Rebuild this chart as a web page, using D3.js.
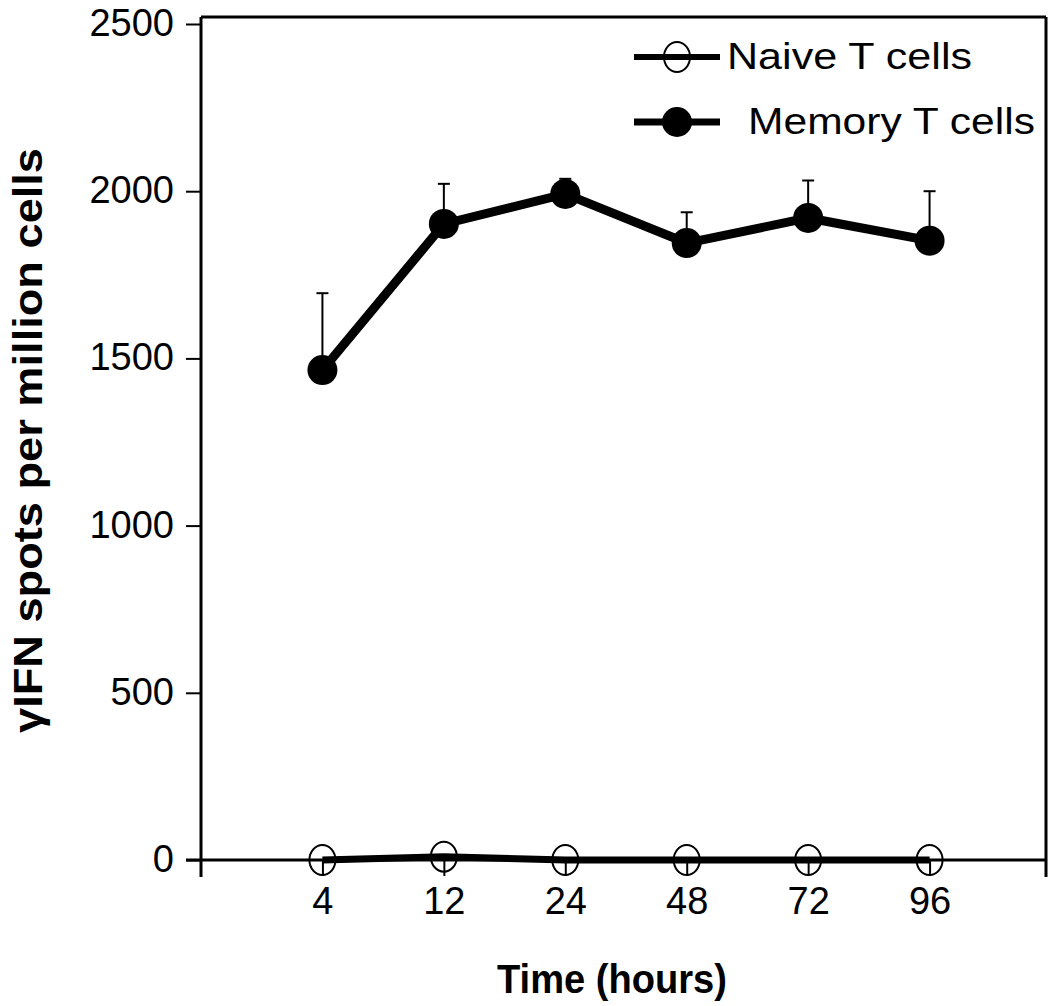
<!DOCTYPE html>
<html><head><meta charset="utf-8">
<script src="https://cdn.jsdelivr.net/npm/d3@7"></script>
<style>body{margin:0;background:#fff}svg{display:block}text{font-family:"Liberation Sans",Arial,Helvetica,sans-serif}</style>
</head><body>
<svg id="c" width="1050" height="1006"></svg>
<script>
const categories = ["4", "12", "24", "48", "72", "96"];
const naiveValues = [0, 10, 0, 0, 0, 0];
const memoryValues = [1465, 1902, 1992, 1845, 1920, 1852];
const memoryErrors = [230, 120, 45, 92, 112, 148];
const yTicks = [0, 500, 1000, 1500, 2000, 2500];
const seriesNames = ["Naive T cells", "Memory T cells"];

const svg = d3.select("#c");
const x = d3.scaleLinear().domain([0, 7]).range([201, 1051]);
const y = d3.scaleLinear().domain([0, 2500]).range([860, 24]);
const xRight = 1046, yTop = 17, yBottomExt = 877;

// frame: top and right
svg.append("line").attr("x1", x(0)).attr("x2", xRight).attr("y1", yTop).attr("y2", yTop).attr("stroke", "#000").attr("stroke-width", 3);
svg.append("line").attr("x1", xRight).attr("x2", xRight).attr("y1", yTop).attr("y2", yBottomExt).attr("stroke", "#000").attr("stroke-width", 3);

// y axis
const yAxis = svg.append("g").attr("transform", `translate(${x(0)},0)`)
  .call(d3.axisLeft(y).tickValues(yTicks).tickSize(15).tickPadding(12).tickFormat(d3.format("d")));
yAxis.select(".domain").remove();
svg.append("line").attr("x1", x(0)).attr("x2", x(0)).attr("y1", yTop).attr("y2", yBottomExt).attr("stroke", "#000").attr("stroke-width", 3);
yAxis.selectAll(".tick line").attr("stroke-width", 2);
yAxis.selectAll("text").attr("font-size", 38).attr("dy", "0.3em").attr("fill", "#000");

// x axis
const xAxis = svg.append("g").attr("transform", `translate(0,${y(0)})`)
  .call(d3.axisBottom(x).tickValues(d3.range(1, 7)).tickSize(16).tickPadding(11).tickFormat(i => categories[i - 1]));
xAxis.select(".domain").remove();
svg.append("line").attr("x1", x(0) - 15).attr("x2", xRight).attr("y1", y(0)).attr("y2", y(0)).attr("stroke", "#000").attr("stroke-width", 3);
xAxis.selectAll(".tick line").attr("stroke-width", 2);
xAxis.selectAll("text").attr("font-size", 38).attr("fill", "#000");

// axis titles
svg.append("text").attr("x", 497).attr("y", 993)
  .attr("font-size", 40).attr("font-weight", "bold")
  .attr("textLength", 230).attr("lengthAdjust", "spacingAndGlyphs").text("Time (hours)");
svg.append("text").attr("transform", "translate(42,733) rotate(-90)")
  .attr("font-size", 41).attr("font-weight", "bold")
  .attr("textLength", 585).attr("lengthAdjust", "spacingAndGlyphs").text("γIFN spots per million cells");

const line = d3.line().x((d, i) => x(i + 1)).y(d => y(d));

// naive series
svg.append("path").datum(naiveValues).attr("d", line).attr("fill", "none").attr("stroke", "#000").attr("stroke-width", 7);
svg.selectAll(".naive").data(naiveValues).join("ellipse").attr("class", "naive")
  .attr("cx", (d, i) => x(i + 1)).attr("cy", d => y(d)).attr("rx", 13).attr("ry", 15)
  .attr("fill", "none").attr("stroke", "#000").attr("stroke-width", 2);

// memory series: error bars
const eb = svg.selectAll(".eb").data(memoryValues).join("g").attr("class", "eb");
eb.append("line").attr("x1", (d, i) => x(i + 1)).attr("x2", (d, i) => x(i + 1))
  .attr("y1", d => y(d)).attr("y2", (d, i) => y(d + memoryErrors[i])).attr("stroke", "#000").attr("stroke-width", 2);
eb.append("line").attr("x1", (d, i) => x(i + 1) - 6).attr("x2", (d, i) => x(i + 1) + 6)
  .attr("y1", (d, i) => y(d + memoryErrors[i])).attr("y2", (d, i) => y(d + memoryErrors[i])).attr("stroke", "#000").attr("stroke-width", 2);
svg.append("path").datum(memoryValues).attr("d", line).attr("fill", "none").attr("stroke", "#000").attr("stroke-width", 9);
svg.selectAll(".mem").data(memoryValues).join("circle").attr("class", "mem")
  .attr("cx", (d, i) => x(i + 1)).attr("cy", d => y(d)).attr("r", 15).attr("fill", "#000");

// legend
const lg = svg.append("g");
lg.append("line").attr("x1", 634).attr("x2", 720).attr("y1", 57).attr("y2", 57).attr("stroke", "#000").attr("stroke-width", 6);
lg.append("ellipse").attr("cx", 677).attr("cy", 57).attr("rx", 13).attr("ry", 15).attr("fill", "none").attr("stroke", "#000").attr("stroke-width", 2);
lg.append("text").attr("x", 727).attr("y", 69).attr("font-size", 37)
  .attr("textLength", 245).attr("lengthAdjust", "spacingAndGlyphs").text(seriesNames[0]);
lg.append("line").attr("x1", 634).attr("x2", 720).attr("y1", 122).attr("y2", 122).attr("stroke", "#000").attr("stroke-width", 7);
lg.append("circle").attr("cx", 677).attr("cy", 122).attr("r", 15).attr("fill", "#000");
lg.append("text").attr("x", 748).attr("y", 134).attr("font-size", 37)
  .attr("textLength", 287).attr("lengthAdjust", "spacingAndGlyphs").text(seriesNames[1]);
</script>
</body></html>
